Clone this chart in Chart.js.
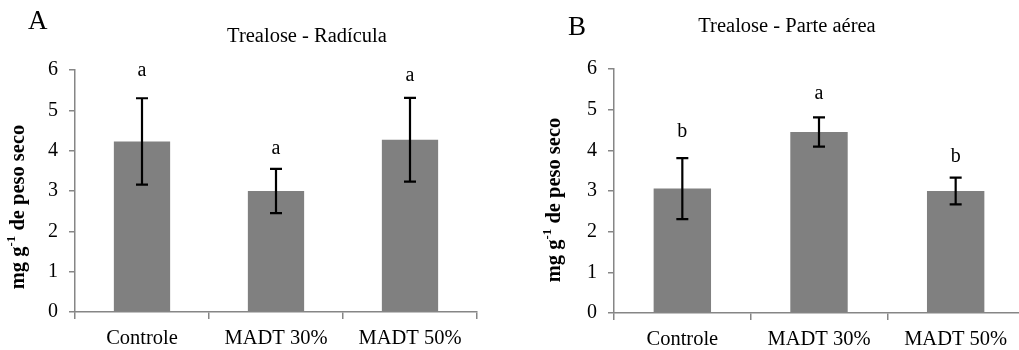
<!DOCTYPE html>
<html lang="pt">
<head>
  <meta charset="UTF-8" />
  <title>Trealose</title>
  <script src="https://cdn.jsdelivr.net/npm/chart.js"></script>
  <style>
    html, body { margin: 0; padding: 0; background: #fff; overflow: hidden; width: 1019px; height: 350px; }
    .panel { position: absolute; top: 0; height: 350px; }
    #boxA { left: 0; width: 500px; }
    #boxB { left: 500px; width: 525px; }
  </style>
</head>
<body>
  <div class="panel" id="boxA"><canvas id="chartA"></canvas></div>
  <div class="panel" id="boxB"><canvas id="chartB"></canvas></div>

  <script>
    // dados
    const categorias = ["Controle", "MADT 30%", "MADT 50%"];
    const radicula = [4.23, 3.00, 4.27];
    const radiculaErro = [1.07, 0.55, 1.04];
    const radiculaLetras = ["a", "a", "a"];
    const radiculaLetrasY = [5.85, 3.92, 5.73];
    const aerea = [3.06, 4.45, 3.00];
    const aereaErro = [0.75, 0.36, 0.33];
    const aereaLetras = ["b", "a", "b"];
    const aereaLetrasY = [4.32, 5.27, 3.71];
    const yTicks = [0, 1, 2, 3, 4, 5, 6];

    const serif = '"Liberation Serif", "Times New Roman", serif';
    const axisGray = '#868686';

    // barras de erro + letras + títulos
    const extras = {
      id: 'extras',
      afterDatasetsDraw(chart, args, o) {
        const ctx = chart.ctx;
        const x = chart.scales.x, y = chart.scales.y;
        const vals = chart.data.datasets[0].data;
        ctx.save();
        ctx.strokeStyle = '#000';
        ctx.lineWidth = 2.2;
        vals.forEach((v, i) => {
          const px = x.getPixelForValue(i);
          const top = y.getPixelForValue(v + o.erro[i]);
          const bot = y.getPixelForValue(v - o.erro[i]);
          ctx.beginPath();
          ctx.moveTo(px, top); ctx.lineTo(px, bot);
          ctx.moveTo(px - 6, top); ctx.lineTo(px + 6, top);
          ctx.moveTo(px - 6, bot); ctx.lineTo(px + 6, bot);
          ctx.stroke();
        });
        ctx.fillStyle = '#000';
        ctx.font = '20px ' + serif;
        ctx.textAlign = 'center';
        ctx.textBaseline = 'alphabetic';
        o.letras.forEach((l, i) => {
          ctx.fillText(l, x.getPixelForValue(i), y.getPixelForValue(o.letrasY[i]));
        });
        // letra do painel
        ctx.font = '27px ' + serif;
        ctx.textAlign = 'left';
        ctx.fillText(o.painel, o.painelX, o.painelY);
        // título
        ctx.font = '20.5px ' + serif;
        ctx.textAlign = 'center';
        ctx.fillText(o.titulo, o.tituloX, o.tituloY);
        // título do eixo y com expoente
        ctx.translate(o.eixoX, o.eixoY);
        ctx.rotate(-Math.PI / 2);
        const big = 'bold 20.5px ' + serif, small = 'bold 13px ' + serif;
        const p1 = 'mg g', p2 = '-1', p3 = ' de peso seco';
        ctx.font = big; const w1 = ctx.measureText(p1).width, w3 = ctx.measureText(p3).width;
        ctx.font = small; const w2 = ctx.measureText(p2).width;
        let cx = -(w1 + w2 + w3) / 2;
        ctx.textAlign = 'left';
        ctx.textBaseline = 'middle';
        ctx.font = big; ctx.fillText(p1, cx, 0); cx += w1;
        ctx.font = small; ctx.fillText(p2, cx, -7); cx += w2;
        ctx.font = big; ctx.fillText(p3, cx, 0);
        ctx.restore();
      }
    };

    function makeChart(id, valores, cfg) {
      return new Chart(document.getElementById(id), {
        type: 'bar',
        data: {
          labels: categorias,
          datasets: [{
            data: valores,
            backgroundColor: '#808080',
            barPercentage: 0.42,
            categoryPercentage: 1
          }]
        },
        plugins: [extras],
        options: {
          responsive: true,
          maintainAspectRatio: false,
          animation: false,
          events: [],
          layout: { padding: { top: cfg.top, right: cfg.right, left: 0, bottom: 0 } },
          plugins: {
            legend: { display: false },
            tooltip: { enabled: false },
            extras: cfg.extras
          },
          scales: {
            x: {
              offset: true,
              grid: { offset: true, drawOnChartArea: false, drawTicks: true, tickLength: 7, color: axisGray, lineWidth: 1.5 },
              border: { display: true, color: axisGray, width: 1.5 },
              ticks: { color: '#000', font: { family: serif, size: 20.5 }, padding: 7, maxRotation: 0 },
              afterFit(s) { s.height = cfg.xh; }
            },
            y: {
              min: 0, max: 6,
              afterBuildTicks(s) { s.ticks = yTicks.map(v => ({ value: v })); },
              grid: { drawOnChartArea: false, drawTicks: true, tickLength: 6, color: axisGray, lineWidth: 1.5 },
              border: { display: true, color: axisGray, width: 1.5 },
              ticks: { color: '#000', font: { family: serif, size: 20 }, padding: 11 },
              afterFit(s) { s.width = cfg.yw; }
            }
          }
        }
      });
    }

    makeChart('chartA', radicula, {
      top: 70, right: 23, xh: 38, yw: 75,
      extras: {
        erro: radiculaErro, letras: radiculaLetras, letrasY: radiculaLetrasY,
        painel: 'A', painelX: 28, painelY: 29,
        titulo: 'Trealose - Radícula', tituloX: 307, tituloY: 42,
        eixoX: 19, eixoY: 207
      }
    });

    makeChart('chartB', aerea, {
      top: 69, right: 1, xh: 37, yw: 114,
      extras: {
        erro: aereaErro, letras: aereaLetras, letrasY: aereaLetrasY,
        painel: 'B', painelX: 68, painelY: 35,
        titulo: 'Trealose - Parte aérea', tituloX: 287, tituloY: 32,
        eixoX: 55, eixoY: 200
      }
    });
  </script>
</body>
</html>
